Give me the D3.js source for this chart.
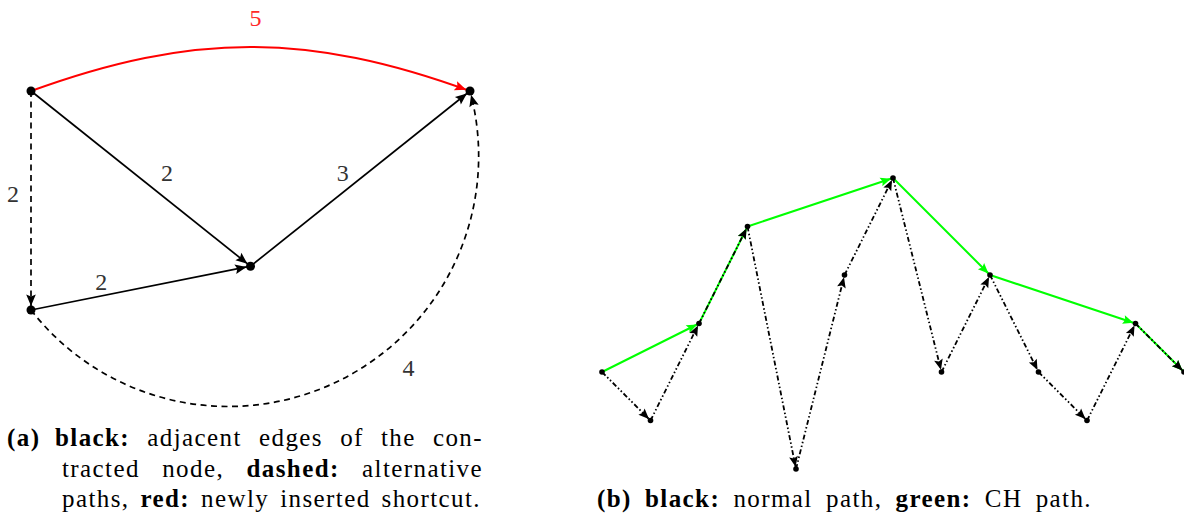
<!DOCTYPE html>
<html>
<head>
<meta charset="utf-8">
<script src="https://cdn.jsdelivr.net/npm/d3@7"></script>
<style>
  html, body { margin: 0; padding: 0; background: #fff; }
  svg { display: block; }
  svg text { font-family: "Liberation Serif", "DejaVu Serif", serif; }
</style>
</head>
<body>
<svg id="fig" width="1184" height="521"></svg>
<script>
// ---------- (a) contraction of node v ----------
// node ids and their layout coordinates (grid units)
const aNodeIds = ["u", "w", "v", "x"];
const aNodeX   = [0, 10, 5, 0];
const aNodeY   = [5, 5, 1, 0];
// edges: source, target, weight, role
const aEdgeFrom   = ["u", "v", "x", "u", "x", "u"];
const aEdgeTo     = ["v", "w", "v", "x", "w", "w"];
const aEdgeWeight = [2, 3, 2, 2, 4, 5];
const aEdgeKind   = ["adjacent", "adjacent", "adjacent", "alternative", "alternative", "shortcut"];

// ---------- (b) normal path vs. CH path ----------
const bNodeIndex = [0, 1, 2, 3, 4, 5, 6, 7, 8, 9, 10, 11, 12];
const bNodeLevel = [0, -1, 1, 3, -2, 2, 4, 0, 2, 0, -1, 1, 0];
const bNormalPath = [0, 1, 2, 3, 4, 5, 6, 7, 8, 9, 10, 11, 12];
const bChPath     = [0, 2, 3, 6, 8, 11, 12];

// ---------- captions ----------
const capA = [
  { x0: 55, x1: 483, lead: [{ t: "(a)", b: true }],
    words: [{ t: "black:", b: true }, { t: "adjacent" }, { t: "edges" }, { t: "of" }, { t: "the" }, { t: "con-" }] },
  { x0: 62, x1: 483,
    words: [{ t: "tracted" }, { t: "node," }, { t: "dashed:", b: true }, { t: "alternative" }] },
  { x0: 62, x1: 481,
    words: [{ t: "paths," }, { t: "red:", b: true }, { t: "newly" }, { t: "inserted" }, { t: "shortcut." }] }
];
const capB = { x0: 597, x1: 1092,
  words: [{ t: "(b)", b: true }, { t: "black:", b: true }, { t: "normal" }, { t: "path," },
          { t: "green:", b: true }, { t: "CH" }, { t: "path." }] };

const svg = d3.select("#fig");
const defs = svg.append("defs");

// arrow tip marker; `pull` moves the tip back from the path end
function addMarker(id, color, len, half, pull) {
  defs.append("marker")
    .attr("id", id)
    .attr("markerUnits", "userSpaceOnUse")
    .attr("viewBox", `${-len - 1} ${-half - 1} ${len + pull + 2} ${2 * half + 2}`)
    .attr("markerWidth", len + pull + 2)
    .attr("markerHeight", 2 * half + 2)
    .attr("refX", pull).attr("refY", 0)
    .attr("orient", "auto")
    .append("path")
    .attr("d", `M0,0 L${-len},${-half} L${-len * 0.82},0 L${-len},${half} Z`)
    .attr("fill", color);
}
addMarker("arrA", "#000", 11.5, 4.8, 4);
addMarker("arrAred", "#ff0000", 11.5, 4.8, 4);
addMarker("arrB", "#000", 10.5, 4.4, 2.2);
addMarker("arrBgreen", "#00ff00", 10.5, 4.4, 2.2);

// ================= panel (a) =================
const ax = d3.scaleLinear().domain([0, 10]).range([31, 470]);
const ay = d3.scaleLinear().domain([0, 5]).range([310, 91]);
const aPos = {};
aNodeIds.forEach((id, i) => { aPos[id] = [ax(aNodeX[i]), ay(aNodeY[i])]; });

const gA = svg.append("g");
const altRadius = ax(5.7) - ax(0);   // radius of the curved alternative path
const bendDeg = 20;                  // bend of the shortcut edge

function edgeGeometry(i) {
  const p0 = aPos[aEdgeFrom[i]], p1 = aPos[aEdgeTo[i]];
  const p = d3.path();
  p.moveTo(p0[0], p0[1]);
  if (aEdgeKind[i] === "shortcut") {
    const dx = p1[0] - p0[0], dy = p1[1] - p0[1];
    const d = Math.hypot(dx, dy), ux = dx / d, uy = dy / d;
    const L = 0.3915 * d, th = bendDeg * Math.PI / 180;
    const rot = (vx, vy, a) => [vx * Math.cos(a) - vy * Math.sin(a), vx * Math.sin(a) + vy * Math.cos(a)];
    const r1 = rot(ux, uy, -th), r2 = rot(-ux, -uy, th);
    const c1 = [p0[0] + L * r1[0], p0[1] + L * r1[1]];
    const c2 = [p1[0] + L * r2[0], p1[1] + L * r2[1]];
    p.bezierCurveTo(c1[0], c1[1], c2[0], c2[1], p1[0], p1[1]);
    const mid = [0.125 * p0[0] + 0.375 * c1[0] + 0.375 * c2[0] + 0.125 * p1[0],
                 0.125 * p0[1] + 0.375 * c1[1] + 0.375 * c2[1] + 0.125 * p1[1]];
    return { d: p.toString(), label: [mid[0] + 5, mid[1] - 29] };
  }
  if (aEdgeKind[i] === "alternative" && aEdgeFrom[i] === "x" && aEdgeTo[i] === "w") {
    const dx = p1[0] - p0[0], dy = p1[1] - p0[1];
    const d = Math.hypot(dx, dy), ux = dx / d, uy = dy / d;
    const k = Math.sqrt(Math.max(altRadius * altRadius - d * d / 4, 0));
    const c = [(p0[0] + p1[0]) / 2 + k * uy, (p0[1] + p1[1]) / 2 - k * ux];
    const ang = 49.7 * Math.PI / 180;
    const d2 = `M${p0[0]},${p0[1]} A${altRadius},${altRadius} 0 0 0 ${p1[0]},${p1[1]}`;
    return { d: d2, label: [c[0] + (altRadius + 28) * Math.cos(ang), c[1] + (altRadius + 28) * Math.sin(ang)] };
  }
  p.lineTo(p1[0], p1[1]);
  // label spot along the straight edge plus an offset to its side
  const spots = { "u-v": [0.62, 0, -27], "v-w": [0.42, 0, -20], "x-v": [0.32, 0, -14], "u-x": [0.47, -18, 0] };
  const s = spots[aEdgeFrom[i] + "-" + aEdgeTo[i]];
  return { d: p.toString(),
           label: [p0[0] + s[0] * (p1[0] - p0[0]) + s[1], p0[1] + s[0] * (p1[1] - p0[1]) + s[2]] };
}

const aEdges = aEdgeFrom.map((f, i) => ({ i, kind: aEdgeKind[i], w: aEdgeWeight[i], geo: edgeGeometry(i) }));

gA.selectAll("path.edge")
  .data(aEdges)
  .join("path")
  .attr("class", "edge")
  .attr("d", e => e.geo.d)
  .attr("fill", "none")
  .attr("stroke", e => e.kind === "shortcut" ? "#ff0000" : "#000")
  .attr("stroke-width", e => e.kind === "shortcut" ? 2 : 1.7)
  .attr("stroke-dasharray", e => e.kind === "alternative" ? "6,4.5" : null)
  .attr("marker-end", e => e.kind === "shortcut" ? "url(#arrAred)" : "url(#arrA)");

gA.selectAll("circle")
  .data(aNodeIds)
  .join("circle")
  .attr("cx", id => aPos[id][0])
  .attr("cy", id => aPos[id][1])
  .attr("r", 4.5)
  .attr("fill", "#000");

gA.selectAll("text.w")
  .data(aEdges)
  .join("text")
  .attr("class", "w")
  .attr("x", e => e.geo.label[0])
  .attr("y", e => e.geo.label[1])
  .attr("text-anchor", "middle")
  .attr("dominant-baseline", "central")
  .attr("font-family", "Liberation Serif")
  .attr("font-size", 24)
  .attr("fill", e => e.kind === "shortcut" ? "#ff2a2a" : "#333")
  .text(e => e.w);

// ================= panel (b) =================
const bx = d3.scaleLinear().domain([0, 12]).range([602, 1184]);
const by = d3.scaleLinear().domain([0, 4]).range([372, 178]);
const bPt = i => [bx(bNodeIndex[i]), by(bNodeLevel[i])];
const gB = svg.append("g");

const segs = path => d3.pairs(path).map(([a, b]) => ({ a: bPt(a), b: bPt(b) }));

gB.append("g").selectAll("line")
  .data(segs(bChPath))
  .join("line")
  .attr("x1", s => s.a[0]).attr("y1", s => s.a[1])
  .attr("x2", s => s.b[0]).attr("y2", s => s.b[1])
  .attr("stroke", "#00ff00")
  .attr("stroke-width", 2)
  .attr("marker-end", "url(#arrBgreen)");

gB.append("g").selectAll("line")
  .data(segs(bNormalPath))
  .join("line")
  .attr("x1", s => s.a[0]).attr("y1", s => s.a[1])
  .attr("x2", s => s.b[0]).attr("y2", s => s.b[1])
  .attr("stroke", "#000")
  .attr("stroke-width", 1.8)
  .attr("stroke-dasharray", "5,2.4,1.5,2.4,1.5,2.4")
  .attr("marker-end", "url(#arrB)");

gB.append("g").selectAll("circle")
  .data(bNodeIndex)
  .join("circle")
  .attr("cx", i => bPt(i)[0])
  .attr("cy", i => bPt(i)[1])
  .attr("r", 2.8)
  .attr("fill", "#000");

// ================= captions =================
const capG = svg.append("g")
  .attr("font-size", 25)
  .attr("letter-spacing", 1.4)
  .attr("fill", "#000");

// lays out a line word by word, stretching the gaps so it spans x0..x1
function placeWords(words, x0, x1, y, justify) {
  const els = words.map(w => capG.append("text")
    .attr("y", y)
    .attr("font-weight", w.b ? "bold" : "normal")
    .text(w.t));
  const widths = els.map(e => e.node().getComputedTextLength());
  const total = d3.sum(widths);
  const gap = justify && words.length > 1 ? (x1 - x0 - total) / (words.length - 1) : 0;
  let x = x0;
  els.forEach((e, k) => { e.attr("x", x); x += widths[k] + gap; });
}

const capBaselines = [446, 477, 507];
capA.forEach((line, k) => {
  if (line.lead) placeWords(line.lead, 7, 7, capBaselines[k], false);
  placeWords(line.words, line.x0, line.x1, capBaselines[k], true);
});
placeWords(capB.words, capB.x0, capB.x1, 507, true);
</script>
</body>
</html>
